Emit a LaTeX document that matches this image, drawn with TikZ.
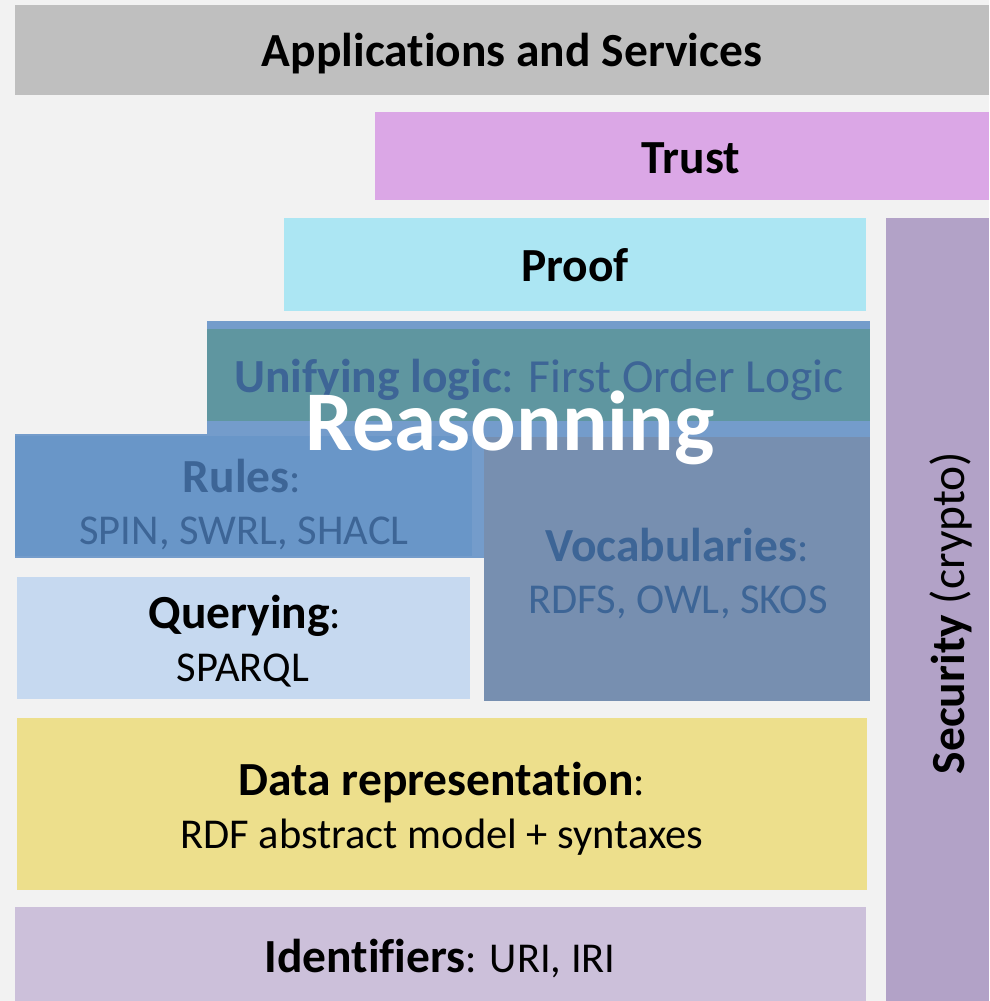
\documentclass[tikz,border=0pt]{standalone}
\usepackage{fontspec}
\setmainfont{Carlito}[Ligatures=NoCommon]
\definecolor{bggray}{HTML}{F2F2F2}
\definecolor{appgray}{HTML}{BFBFBF}
\definecolor{trustpink}{HTML}{DBA7E6}
\definecolor{proofcyan}{HTML}{ACE6F3}
\definecolor{secpurple}{HTML}{B2A2C7}
\definecolor{reasonblue}{HTML}{749CCB}
\definecolor{logicteal}{HTML}{5F96A0}
\definecolor{rulesblue}{HTML}{6996C8}
\definecolor{vocabblue}{HTML}{778FB0}
\definecolor{querylight}{HTML}{C6D9F0}
\definecolor{datayellow}{HTML}{EDDF8C}
\definecolor{idlilac}{HTML}{CCC0DA}
\definecolor{darkblue}{HTML}{3D6596}
\newcommand{\layername}[1]{{\fontsize{47.5}{53}\selectfont\bfseries #1}}
\begin{document}
\begin{tikzpicture}[x=1pt,y=-1pt]
	\tikzset{every node/.style={font=\fontsize{42.5}{53}\selectfont, inner sep=0pt, anchor=base}}
	\tikzset{dimtext/.style={text=darkblue}, bigtext/.style={font=\fontsize{47.5}{53}\selectfont}}
	% background and layers
	\fill[bggray] (0,0) rectangle (989,1001);
	\fill[appgray] (15,5) rectangle (989,95);
	\fill[trustpink] (375,112) rectangle (989,200);
	\fill[proofcyan] (284,218) rectangle (866,311);
	\fill[secpurple] (886,218) rectangle (989,1001);
	\fill[reasonblue] (207,321) rectangle (870,437);
	\fill[logicteal] (207,329) rectangle (870,421);
	\fill[reasonblue] (15,434) rectangle (484,558);
	\fill[rulesblue] (15,436) rectangle (472,556);
	\fill[vocabblue] (484,437) rectangle (870,701);
	\fill[querylight] (17,577) rectangle (470,699);
	\fill[datayellow] (17,718) rectangle (867,890);
	\fill[idlilac] (15,907) rectangle (866,1001);
	% labels
	\node (apps) at (512,66) {\layername{Applications and Services}};
	\node (trust) at (691,173) {\layername{Trust}};
	\node (proof) at (575,281) {\layername{Proof}};
	\node[dimtext, bigtext] (logic) at (539,392) {\layername{Unifying logic}: First Order Logic};
	\node[dimtext] (rules) at (242,492) {\layername{Rules}:};
	\node[dimtext] (rulesl) at (244,544) {SPIN, SWRL, SHACL};
	\node[dimtext] (vocab) at (677,561) {\layername{Vocabularies}:};
	\node[dimtext] (vocabl) at (678,613) {RDFS, OWL, SKOS};
	\node (query) at (245,628) {\layername{Querying}:};
	\node (queryl) at (243,681) {SPARQL};
	\node (data) at (442,795) {\layername{Data representation}:};
	\node (datal) at (442,848) {RDF abstract model + syntaxes};
	\node (ids) at (440,972) {\layername{Identifiers}: URI, IRI};
	\node[bigtext, rotate=90, anchor=center] (sec) at (951,613) {\layername{Security} (crypto)};
	\node[text=white, font=\fontsize{85}{90}\selectfont\bfseries] (reason) at (510,450) {Reasonning};
\end{tikzpicture}
\end{document}
